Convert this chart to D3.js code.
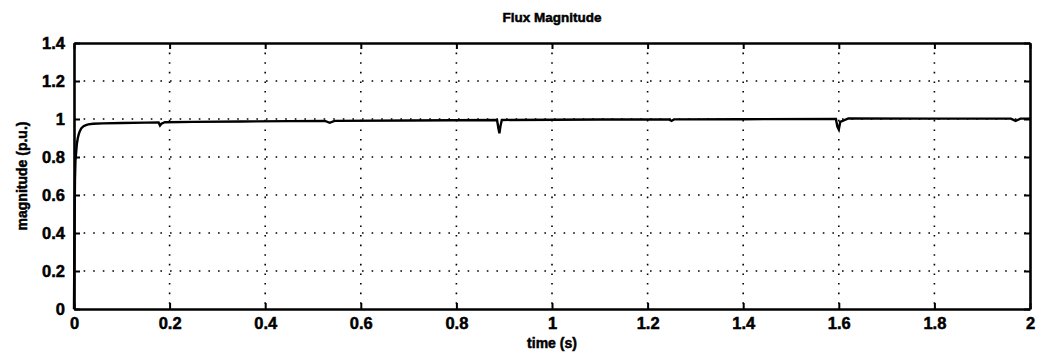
<!DOCTYPE html>
<html>
<head>
<meta charset="utf-8">
<script src="https://cdn.jsdelivr.net/npm/d3@7"></script>
<style>
  body { margin: 0; background: #fff; }
  svg text { font-family: "Liberation Sans", Arial, sans-serif; font-weight: bold; fill: #000; stroke: #000; stroke-width: 0.5px; }
</style>
</head>
<body>
<svg id="chart" width="1039" height="356"></svg>
<script>
// flux magnitude trace
const timeS = [0, 0.001, 0.002, 0.003, 0.004, 0.005, 0.006, 0.008, 0.01, 0.012, 0.015, 0.02, 0.025, 0.03, 0.04, 0.06, 0.1, 0.15,
  0.177, 0.18, 0.183, 0.19, 0.25, 0.35, 0.45, 0.525, 0.535, 0.545, 0.7, 0.885, 0.888, 0.89, 0.892, 0.895, 1.1, 1.245, 1.25, 1.255,
  1.4, 1.594, 1.597, 1.6, 1.603, 1.62, 1.8, 1.96, 1.97, 1.98, 2.0];
const magnitude = [0, 0.4, 0.68, 0.78, 0.81, 0.84, 0.87, 0.9, 0.92, 0.935, 0.95, 0.962, 0.968, 0.972, 0.975, 0.977, 0.979, 0.981,
  0.982, 0.966, 0.975, 0.983, 0.985, 0.987, 0.989, 0.99, 0.98, 0.99, 0.992, 0.995, 0.95, 0.925, 0.96, 0.995, 0.997, 0.998, 0.99, 0.998,
  0.999, 1.0, 0.96, 0.945, 0.985, 1.003, 1.002, 1.002, 0.99, 1.002, 1.002];

const xTicks = [0, 0.2, 0.4, 0.6, 0.8, 1, 1.2, 1.4, 1.6, 1.8, 2];
const yTicks = [0, 0.2, 0.4, 0.6, 0.8, 1, 1.2, 1.4];

const svg = d3.select("#chart");
const margin = { left: 74, right: 9, top: 43, bottom: 47 };
const W = 1039, H = 356;
const pw = W - margin.left - margin.right;
const ph = H - margin.top - margin.bottom;

const x = d3.scaleLinear().domain([0, 2]).range([0, pw]);
const y = d3.scaleLinear().domain([0, 1.4]).range([ph, 0]);

const g = svg.append("g").attr("transform", `translate(${margin.left},${margin.top})`);

// dotted grid
g.selectAll("line.gx").data(xTicks.slice(1, -1)).enter().append("line")
  .attr("x1", d => x(d)).attr("x2", d => x(d)).attr("y1", 0).attr("y2", ph)
  .attr("stroke", "#000").attr("stroke-width", 1.6).attr("stroke-dasharray", "1.6,8");
g.selectAll("line.gy").data(yTicks.slice(1, -1)).enter().append("line")
  .attr("x1", 0).attr("x2", pw).attr("y1", d => y(d)).attr("y2", d => y(d))
  .attr("stroke", "#000").attr("stroke-width", 1.6).attr("stroke-dasharray", "1.6,8");

// trace
const line = d3.line().x((d, i) => x(timeS[i])).y(d => y(d));
g.append("path").datum(magnitude)
  .attr("d", line).attr("fill", "none").attr("stroke", "#000").attr("stroke-width", 2.4);

// axes, matlab style: ticks pointing inward
const xAxis = d3.axisBottom(x).tickValues(xTicks).tickFormat(d3.format("")).tickSizeInner(-6).tickSizeOuter(0).tickPadding(8);
const yAxis = d3.axisLeft(y).tickValues(yTicks).tickFormat(d3.format("")).tickSizeInner(-6).tickSizeOuter(0).tickPadding(9);

const gx = g.append("g").attr("transform", `translate(0,${ph})`).call(xAxis);
const gy = g.append("g").call(yAxis);
const gxTop = g.append("g").call(d3.axisTop(x).tickValues(xTicks).tickSizeInner(-6).tickSizeOuter(0).tickFormat(""));
const gyRight = g.append("g").attr("transform", `translate(${pw},0)`)
  .call(d3.axisRight(y).tickValues(yTicks).tickSizeInner(-6).tickSizeOuter(0).tickFormat(""));

[gx, gy, gxTop, gyRight].forEach(a => {
  a.select(".domain").attr("stroke", "#000").attr("stroke-width", 2.6);
  a.selectAll(".tick line").attr("stroke", "#000").attr("stroke-width", 2);
  a.selectAll(".tick text").attr("font-size", 16.5).attr("fill", "#000")
    .attr("font-family", "Liberation Sans, Arial, sans-serif").attr("font-weight", "bold");
});

// labels
svg.append("text").attr("x", margin.left + pw / 2).attr("y", 22)
  .attr("text-anchor", "middle").attr("font-size", 13.5).text("Flux Magnitude");
svg.append("text").attr("x", margin.left + pw / 2).attr("y", 348)
  .attr("text-anchor", "middle").attr("font-size", 14).text("time (s)");
svg.append("text").attr("transform", `translate(27,${margin.top + ph / 2}) rotate(-90)`)
  .attr("text-anchor", "middle").attr("font-size", 14).text("magnitude (p.u.)");
</script>
</body>
</html>
